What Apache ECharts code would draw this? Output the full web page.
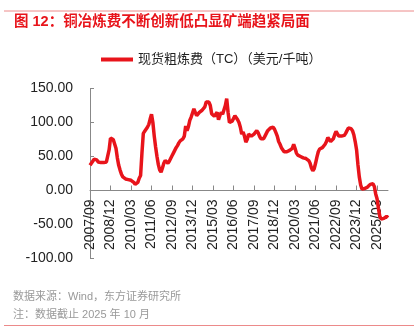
<!DOCTYPE html>
<html><head><meta charset="utf-8">
<script src="https://cdn.jsdelivr.net/npm/echarts@6/dist/echarts.min.js"></script>
<style>html,body{margin:0;padding:0;background:#fff}#c{width:414px;height:327px}</style>
</head><body><div id="c"></div>
<script>
// Monthly categories 2007/09 ..
const startYear = 2007, startMonth = 9, monthCount = 219;
const categories = [];
for (let k = 0; k < monthCount; k++) {
  const m = startMonth - 1 + k;
  const y = startYear + Math.floor(m / 12);
  const mm = (m % 12) + 1;
  categories.push(y + '/' + (mm < 10 ? '0' + mm : mm));
}
const seriesName = '现货粗炼费（TC）（美元/千吨）';
const tcValues = [
  37,40,43,46,47,45,42,42,41,42,41,42,42,43,60,77,76,75,73,62,
  48,37,30,24,20,18,17,16,16,15,15,14,12,9,8,12,18,22,55,84,
  87,90,93,97,105,112,100,80,64,50,38,30,27,33,40,44,43,40,43,47,
  51,55,59,63,66,70,73,74,76,80,95,88,94,103,108,114,120,115,110,112,
  115,117,118,120,123,130,131,130,125,113,111,109,112,115,104,110,115,112,110,125,
  135,115,100,98,102,106,110,108,104,100,93,83,86,80,71,75,83,82,80,82,
  83,85,88,85,80,76,74,76,80,84,88,90,92,93,93,90,85,80,72,68,
  63,60,57,56,57,58,59,58,62,68,62,55,52,51,50,49,48,48,47,46,
  44,40,33,29,32,40,49,57,61,62,63,64,68,72,78,76,72,71,76,82,
  87,85,80,79,80,82,81,84,88,92,93,91,88,82,72,60,38,20,8,2,
  1,3,5,5,7,9,11,10,6,-5,-12,-26,-38,-42,-42,-41,-41,-38,-40
];
const yTicks = { min: -100, max: 150, interval: 50 };
const titleText = '图 12：铜冶炼费不断创新低凸显矿端趋紧局面';
const sourceText = '数据来源：Wind，东方证券研究所';
const noteText = '注：数据截止 2025 年 10 月';

const FONT = '"Liberation Sans", "Noto Sans CJK SC", sans-serif';
const gridTop = 88.5, gridBottom = 68.5, H = 327;
const plotH = H - gridTop - gridBottom;
const zeroOffset = -plotH * (0 - yTicks.min) / (yTicks.max - yTicks.min);

const chart = echarts.init(document.getElementById('c'), null, { renderer: 'canvas' });
chart.setOption({
  animation: false,
  backgroundColor: '#fff',
  textStyle: { fontFamily: FONT },
  graphic: [
    { type: 'line', shape: { x1: 4, y1: 11, x2: 414, y2: 11 }, style: { stroke: '#ec8a8a', lineWidth: 1 } },
    { type: 'text', x: 14, y: 22, style: { text: titleText, fill: '#e8141b', font: 'bold 14.5px ' + FONT, verticalAlign: 'middle' } },
    { type: 'text', x: 13, y: 297, style: { text: sourceText, fill: '#999', font: '11px ' + FONT, verticalAlign: 'middle' } },
    { type: 'text', x: 13, y: 315, style: { text: noteText, fill: '#999', font: '11px ' + FONT, verticalAlign: 'middle' } },
    { type: 'line', shape: { x1: 4, y1: 325.5, x2: 414, y2: 325.5 }, style: { stroke: '#ec8a8a', lineWidth: 1 } }
  ],
  legend: {
    left: 96, top: 48,
    itemWidth: 32, itemHeight: 4, icon: 'rect',
    textStyle: { fontSize: 13, color: '#222', fontFamily: FONT },
    data: [seriesName]
  },
  grid: { left: 90, right: 26, top: gridTop, bottom: gridBottom, containLabel: false, outerBoundsMode: 'none' },
  xAxis: {
    type: 'category', data: categories, boundaryGap: false,
    position: 'bottom', offset: zeroOffset,
    axisLine: { onZero: false, lineStyle: { color: '#888', width: 1 } },
    axisTick: { show: true, inside: true, length: 5, interval: 14, alignWithLabel: true, lineStyle: { color: '#888' } },
    axisLabel: { interval: 14, rotate: 90, fontSize: 14, margin: 9, color: '#222', fontFamily: FONT }
  },
  yAxis: {
    type: 'value', min: yTicks.min, max: yTicks.max, interval: yTicks.interval,
    splitLine: { show: false },
    axisLine: { show: true, lineStyle: { color: '#888', width: 1 } },
    axisTick: { show: true, inside: true, length: 4, lineStyle: { color: '#888' } },
    axisLabel: { fontSize: 14, margin: 17, color: '#222', fontFamily: FONT, formatter: v => v.toFixed(2) }
  },
  series: [{
    name: seriesName, type: 'line', data: tcValues,
    showSymbol: false, symbol: 'none',
    lineStyle: { color: '#e8141b', width: 3.5 },
    itemStyle: { color: '#e8141b' }
  }]
});
</script></body></html>
